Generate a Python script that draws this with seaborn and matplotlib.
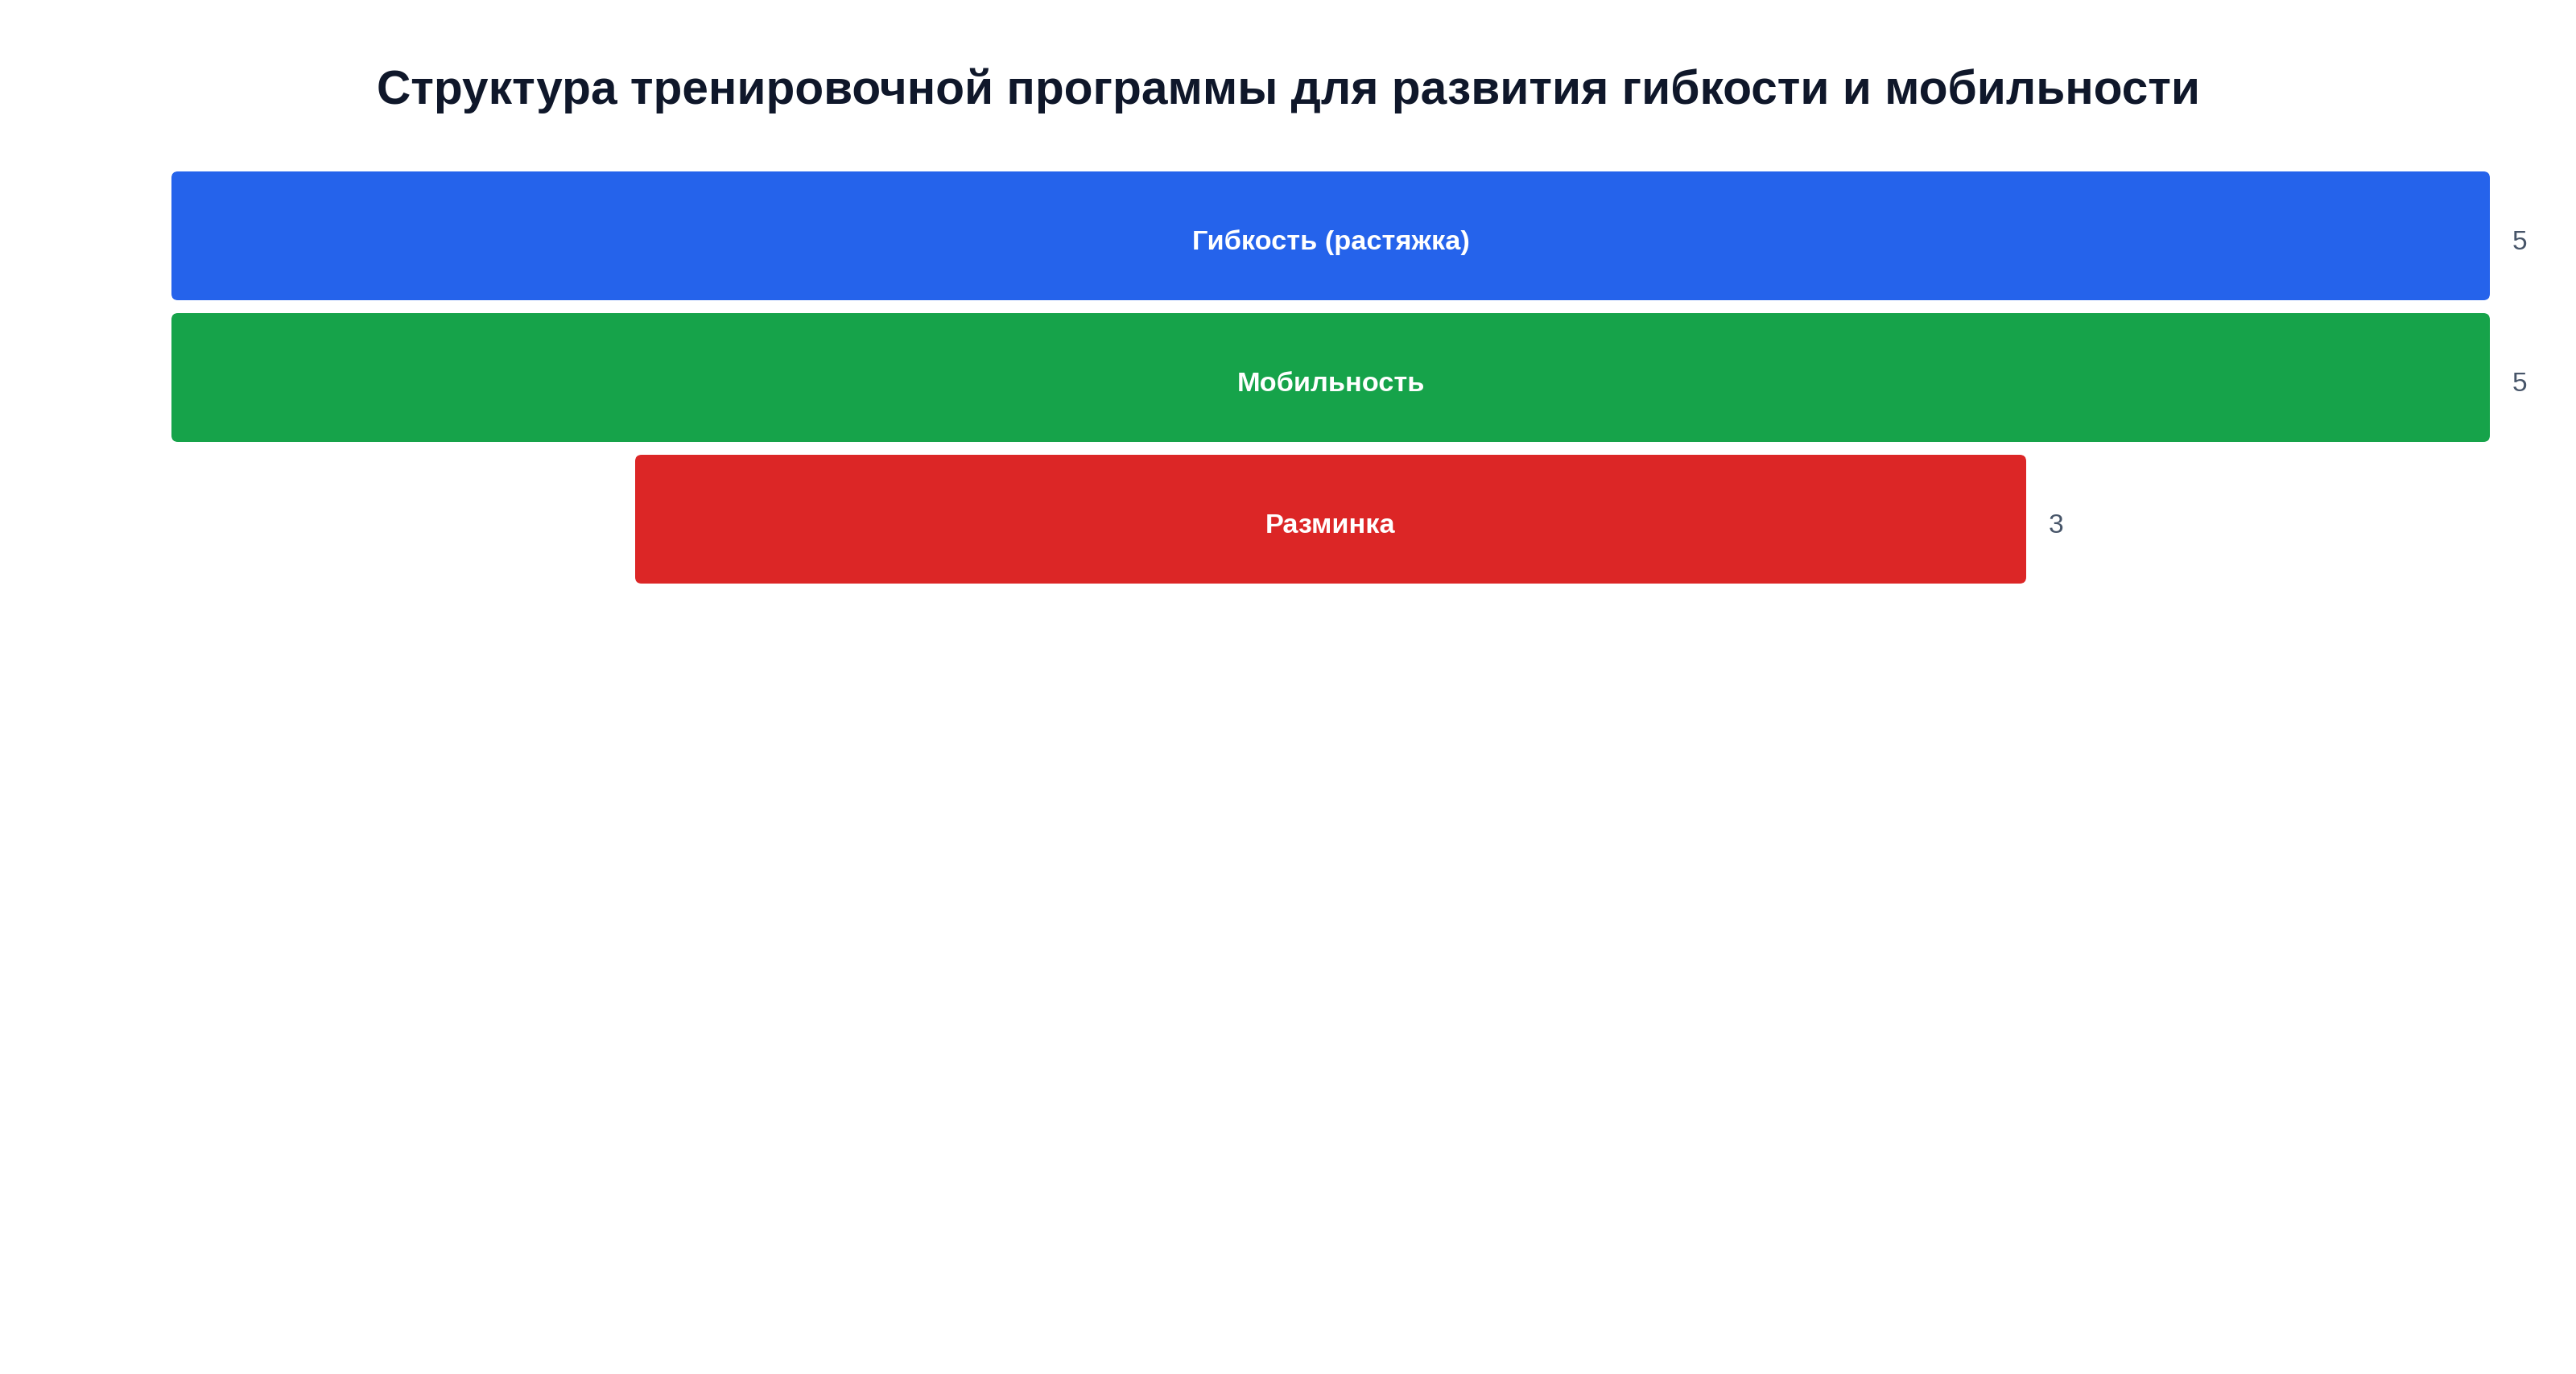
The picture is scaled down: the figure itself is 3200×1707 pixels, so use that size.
import matplotlib
matplotlib.use("Agg")
import matplotlib.pyplot as plt
import seaborn as sns
import pandas as pd
from matplotlib.patches import FancyBboxPatch

# ---- data ----
categories = ["Гибкость (растяжка)", "Мобильность", "Разминка"]
values = [5, 5, 3]
colors = ["#2563EB", "#16A34A", "#DC2626"]
title = "Структура тренировочной программы для развития гибкости и мобильности"

sns.set_theme(style="white")
plt.rcParams['font.family'] = ['Liberation Sans', 'DejaVu Sans']

W, H, DPI = 3200, 1707, 200
fig = plt.figure(figsize=(W / DPI, H / DPI), dpi=DPI)
fig.patch.set_facecolor("white")

# axes region (pixels): x 213..3093, y 205..733
ax = fig.add_axes([213 / W, 1 - 733 / H, 2880 / W, 528 / H])
df = pd.DataFrame({"stage": categories, "count": values})
bar_w = 160 / 176
sns.barplot(data=df, x="count", y="stage", hue="stage", palette=colors,
            width=bar_w, ax=ax, legend=False, saturation=1, orient="h")

vmax = max(values)
ax.set_xlim(-vmax / 2, vmax / 2)
ax.set_ylim(len(categories) - 0.5, -0.5)
ax.axis("off")

fig.canvas.draw()
bb = ax.get_window_extent()
px_per_x = bb.width / vmax
px_per_y = bb.height / len(categories)
radius_px = 8
r = radius_px / px_per_x
aspect = px_per_x / px_per_y

patches = list(ax.patches)
for p in patches:
    w = p.get_width()
    y0 = p.get_y()
    h = p.get_height()
    fc = p.get_facecolor()
    p.remove()
    fb = FancyBboxPatch((-w / 2, y0), w, h,
                        boxstyle=f"round,pad=0,rounding_size={r}",
                        mutation_aspect=aspect,
                        facecolor=fc, edgecolor="none", linewidth=0)
    ax.add_patch(fb)

offset = 28 / px_per_x
dy = 8 / px_per_y
for i, (cat, v) in enumerate(zip(categories, values)):
    ax.text(0, i + dy, cat, ha="center", va="center", color="white",
            fontsize=12.4, fontweight="bold")
    ax.text(v / 2 + offset, i + dy, str(v), ha="left", va="center",
            color="#475569", fontsize=12, clip_on=False)

fig.text(1600 / W, 1 - 113 / H, title, ha="center", va="center",
         fontsize=21.1, fontweight="bold", color="#0F172A")

fig.savefig("out.png", dpi=DPI, facecolor="white")
